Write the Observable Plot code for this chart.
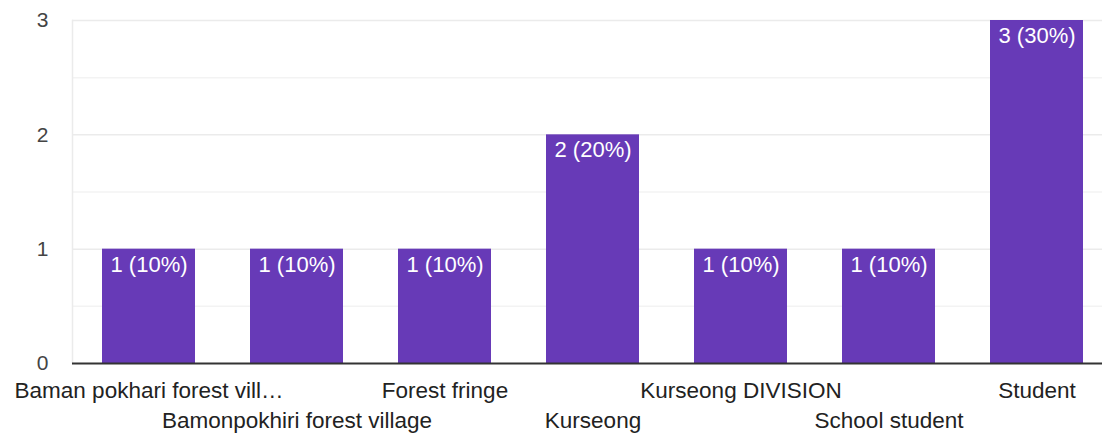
<!DOCTYPE html>
<html><head><meta charset="utf-8">
<script src="https://cdn.jsdelivr.net/npm/d3@7"></script>
<script src="https://cdn.jsdelivr.net/npm/@observablehq/plot@0.6"></script>
<style>body{margin:0;background:#fff;} svg{display:block;}</style>
</head><body><div id="chart"></div>
<script>
const categories = ["Baman pokhari forest vill…","Bamonpokhiri forest village","Forest fringe","Kurseong","Kurseong DIVISION","School student","Student"];
const counts = [1,1,1,2,1,1,3];
const labels = ["1 (10%)","1 (10%)","1 (10%)","2 (20%)","1 (10%)","1 (10%)","3 (30%)"];
const yTicks = [0,1,2,3];
const minorTicks = [0.5,1.5,2.5];

const data = categories.map((c,i)=>({cat:c, n:counts[i], label:labels[i], row:i%2}));
const font = "'Liberation Sans', Arial, sans-serif";

const chart = Plot.plot({
  width: 1102, height: 433,
  marginLeft: 72, marginRight: 0, marginTop: 20, marginBottom: 70,
  style: {fontFamily: font, background: "#fff"},
  x: {domain: categories, range: [72, 1112], paddingInner: 0.374, paddingOuter: 0.187, axis: null},
  y: {domain: [0,3], axis: null},
  marks: [
    Plot.ruleY(minorTicks, {stroke: "#f3f3f3", strokeWidth: 1.5}),
    Plot.ruleY([1,2,3], {stroke: "#ebebeb", strokeWidth: 1.5}),
    Plot.frame({anchor: "left", stroke: "#ebebeb", strokeWidth: 1.5}),
    Plot.barY(data, {x: "cat", y: "n", fill: "#673ab7"}),
    Plot.text(data, {x: "cat", y: "n", text: "label", fill: "#fff", fontSize: 22, lineAnchor: "top", dy: 7}),
    Plot.ruleY([0], {stroke: "#333", strokeWidth: 2}),
    Plot.text(yTicks, {y: d=>d, frameAnchor: "left", text: d=>String(d), textAnchor: "end", dx: -24, fill: "#444", fontSize: 21}),
    Plot.text(data.filter(d=>d.row===0), {x: "cat", y: 0, text: "cat", fill: "#222", fontSize: 22.5, lineAnchor: "top", dy: 19}),
    Plot.text(data.filter(d=>d.row===1), {x: "cat", y: 0, text: "cat", fill: "#222", fontSize: 22.5, lineAnchor: "top", dy: 49})
  ]
});
document.getElementById("chart").appendChild(chart);
</script></body></html>
